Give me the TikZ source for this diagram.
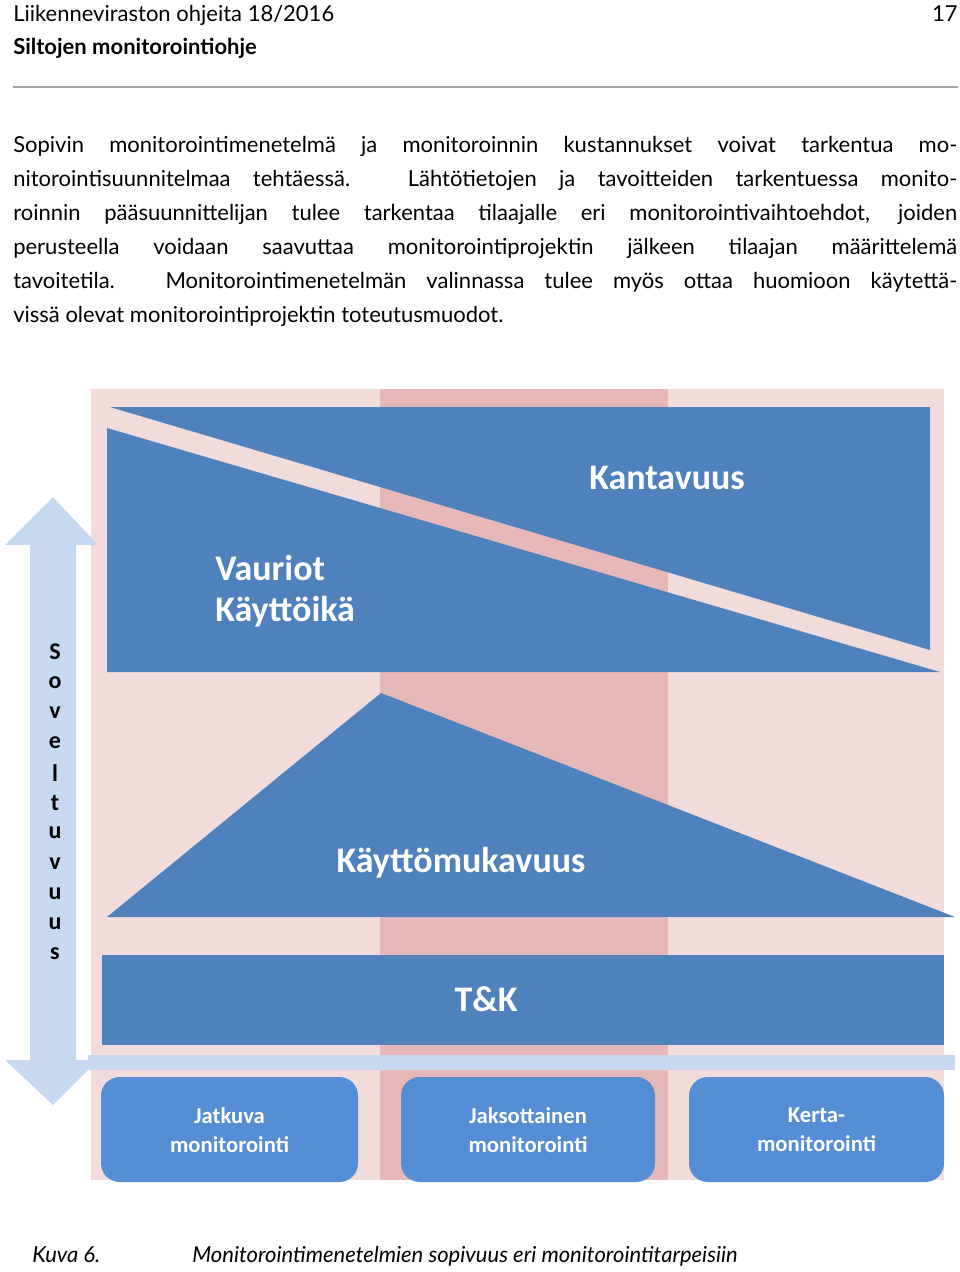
\documentclass[tikz,border=0pt]{standalone}
\usepackage{fontspec}
\setmainfont{Lato}
\newfontfamily\carlfont{Carlito}
\definecolor{bgpink}{HTML}{F2DCDB}
\definecolor{midpink}{HTML}{E6B9B8}
\definecolor{mainblue}{HTML}{4F81BD}
\definecolor{boxblue}{HTML}{558ED5}
\definecolor{lightblue}{HTML}{C6D9F0}
\definecolor{rulegray}{HTML}{A6A6A6}
\newcommand{\jl}[1]{\parbox{708pt}{\parfillskip=0pt\relax #1}}
\begin{document}
\begin{tikzpicture}[x=0.75pt,y=-0.75pt,
  body/.style={anchor=west,inner sep=0pt,font=\fontsize{16.5pt}{20pt}\selectfont},
  big/.style={text=white,font=\carlfont\bfseries\fontsize{27pt}{32pt}\selectfont,inner sep=0pt},
  mbox/.style={fill=boxblue,rounded corners=14pt,draw=none},
  mtext/.style={text=white,align=center,font=\carlfont\bfseries\fontsize{17pt}{22pt}\selectfont}]
\useasboundingbox (0,0) rectangle (960,1272);
% header
\node[body,anchor=base west] (h1) at (13,21) {Liikenneviraston ohjeita 18/2016};
\node[body,anchor=base west,font=\bfseries\fontsize{16.5pt}{20pt}\selectfont] (h2) at (13,54) {Siltojen monitorointiohje};
\node[body,anchor=base east] (pg) at (958,21) {17};
\draw[rulegray,line width=2.2pt] (13,87) -- (958,87);
% paragraph
\node[body,anchor=base west] (p1) at (13,152) {\jl{Sopivin monitorointimenetelmä ja monitoroinnin kustannukset voivat tarkentua mo-}};
\node[body,anchor=base west] (p2) at (13,186) {\jl{nitorointisuunnitelmaa tehtäessä. Lähtötietojen ja tavoitteiden tarkentuessa monito-}};
\node[body,anchor=base west] (p3) at (13,220) {\jl{roinnin pääsuunnittelijan tulee tarkentaa tilaajalle eri monitorointivaihtoehdot, joiden}};
\node[body,anchor=base west] (p4) at (13,254) {\jl{perusteella voidaan saavuttaa monitorointiprojektin jälkeen tilaajan määrittelemä}};
\node[body,anchor=base west] (p5) at (13,288) {\jl{tavoitetila. Monitorointimenetelmän valinnassa tulee myös ottaa huomioon käytettä-}};
\node[body,anchor=base west] (p6) at (13,322) {vissä olevat monitorointiprojektin toteutusmuodot.};
% diagram background
\fill[bgpink] (91,389) rectangle (944,1180);
\fill[midpink] (380,389) rectangle (668,1180);
% top block
\fill[mainblue] (110,407) -- (930,407) -- (930,650) -- cycle;
\fill[mainblue] (107,428) -- (940,672) -- (107,672) -- cycle;
\node[big] (kant) at (667,478) {Kantavuus};
\node[big,anchor=west,align=left,font=\carlfont\bfseries\fontsize{27pt}{31pt}\selectfont] (vaur) at (215,591) {Vauriot\\Käyttöikä};
% triangle
\fill[mainblue] (381,693) -- (955,917) -- (107,917) -- cycle;
\node[big] (kaytto) at (461,863) {Käyttömukavuus};
% T&K
\fill[mainblue] (102,955) rectangle (944,1045);
\node[big] (tk) at (486,999) {T\&K};
% horizontal bar
\fill[lightblue] (88,1055) rectangle (955,1070);
% arrow
\fill[lightblue] (53,497) -- (98,545) -- (76,545) -- (76,1060) -- (98,1060) -- (53,1105) -- (5,1060) -- (30,1060) -- (30,545) -- (5,545) -- cycle;
\foreach \c [count=\i from 0] in {S,o,v,e,l,t,u,v,u,u,s}
  \node[font=\carlfont\bfseries\fontsize{18pt}{20pt}\selectfont,inner sep=0pt] (L\i) at (55,652+30.2*\i) {\c};
% boxes
\fill[mbox] (101,1077) rectangle (358,1182);
\fill[mbox] (401,1077) rectangle (655,1182);
\fill[mbox] (689,1077) rectangle (944,1182);
\node[mtext] (b1) at (229.5,1130) {Jatkuva\\monitorointi};
\node[mtext] (b2) at (528,1130) {Jaksottainen\\monitorointi};
\node[mtext] (b3) at (816.5,1130) {Kerta-\\monitorointi};
% caption
\node[body,anchor=base west,font=\itshape\fontsize{16.5pt}{20pt}\selectfont] (c1) at (32,1262) {Kuva 6.};
\node[body,anchor=base west,font=\itshape\fontsize{16.5pt}{20pt}\selectfont] (c2) at (192,1262) {Monitorointimenetelmien sopivuus eri monitorointitarpeisiin};
\end{tikzpicture}
\end{document}
